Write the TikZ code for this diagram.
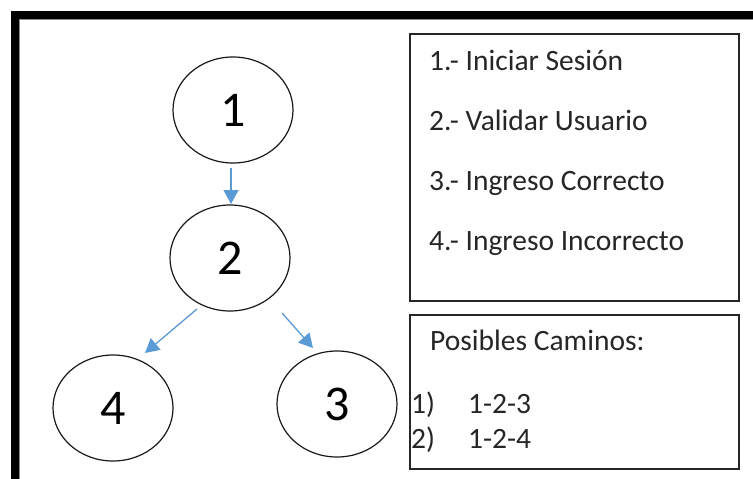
\documentclass[tikz,border=0pt]{standalone}
\usepackage{fontspec}
\setmainfont{Carlito}
\usetikzlibrary{shapes.geometric,arrows.meta}
\definecolor{arrowblue}{HTML}{5B9BD5}
\begin{document}
\begin{tikzpicture}[x=1pt,y=-1pt,
  state/.style={ellipse,draw=black!90,line width=1.2pt,minimum width=120pt,minimum height=106pt,inner sep=0pt,font=\fontsize{50}{50}\selectfont},
  infobox/.style={draw=black!85,line width=1.6pt},
  label/.style={anchor=base west,inner sep=0pt,font=\fontsize{29.5}{31}\selectfont,text=black!85},
  arr/.style={draw=arrowblue,line width=1.3pt,-{Triangle[length=14pt,width=15pt]}}
]
\useasboundingbox (0,0) rectangle (753,479);
\fill[white] (0,0) rectangle (753,479);
% frame (top and left black bands)
\fill[black] (11,11) rectangle (753,18.5);
\fill[black] (11,11) rectangle (19,479);
\draw[black!45,line width=0.8pt] (19.5,479) -- (19.5,19.2) -- (753,19.2);
% states
\node[state] (n1) at (233,110) {1};
\node[state] (n2) at (230,258) {2};
\node[state] (n3) at (337,404) {3};
\node[state] (n4) at (113,408) {4};
% arrows
\draw[arr] ([shift={(-2,58)}]n1.center) -- ([shift={(1,-54)}]n2.center);
\draw[arr] ([shift={(52,55)}]n2.center) -- ([shift={(-24,-56)}]n3.center);
\draw[arr] ([shift={(-33,51)}]n2.center) -- ([shift={(32,-55)}]n4.center);
% legend boxes
\node[infobox,minimum width=329pt,minimum height=267pt,anchor=north west,inner sep=0pt] (b1) at (409,33) {};
\node[infobox,minimum width=329pt,minimum height=154pt,anchor=north west,inner sep=0pt] (b2) at (409,314) {};
\node[label] (t1) at (429,70) {1.- Iniciar Sesión};
\node[label] (t2) at (429,130) {2.- Validar Usuario};
\node[label] (t3) at (429,190) {3.- Ingreso Correcto};
\node[label] (t4) at (429,250) {4.- Ingreso Incorrecto};
\node[label] (p0) at (430,350) {Posibles Caminos:};
\node[label] (p1a) at (411,413) {1)};
\node[label] (p1b) at (468,413) {1-2-3};
\node[label] (p2a) at (411,448) {2)};
\node[label] (p2b) at (468,448) {1-2-4};
\end{tikzpicture}
\end{document}
